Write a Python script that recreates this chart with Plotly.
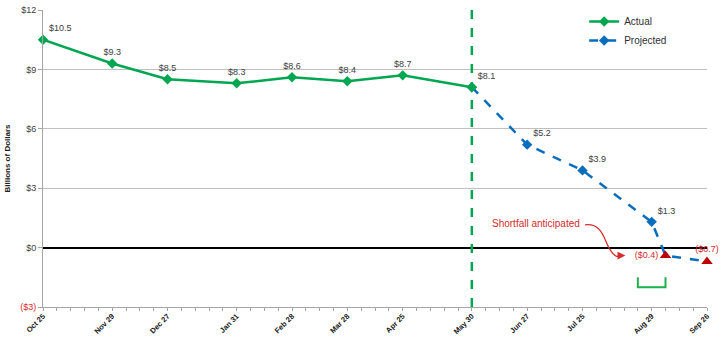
import plotly.graph_objects as go

# ---- data ----
actual_dates = ["2013-10-25", "2013-11-29", "2013-12-27", "2014-01-31", "2014-02-28",
                "2014-03-28", "2014-04-25", "2014-05-30"]
actual_vals = [10.5, 9.3, 8.5, 8.3, 8.6, 8.4, 8.7, 8.1]
actual_labels = ["$10.5", "$9.3", "$8.5", "$8.3", "$8.6", "$8.4", "$8.7", "$8.1"]

proj_dates = ["2014-05-30", "2014-06-27", "2014-07-25", "2014-08-29", "2014-09-05", "2014-09-26"]
proj_vals = [8.1, 5.2, 3.9, 1.3, -0.4, -0.7]
proj_labels = ["", "$5.2", "$3.9", "$1.3", "", ""]

short_dates = ["2014-09-05", "2014-09-26"]
short_vals = [-0.4, -0.7]
short_labels = ["($0.4)", "($0.7)"]

tick_dates = ["2013-10-25", "2013-11-29", "2013-12-27", "2014-01-31", "2014-02-28",
              "2014-03-28", "2014-04-25", "2014-05-30", "2014-06-27", "2014-07-25",
              "2014-08-29", "2014-09-26"]
tick_text = ["Oct 25", "Nov 29", "Dec 27", "Jan 31", "Feb 28", "Mar 28", "Apr 25",
             "May 30", "Jun 27", "Jul 25", "Aug 29", "Sep 26"]

y_ticks = [-3, 0, 3, 6, 9, 12]
y_text = ["<span style='color:#D42A2A'>($3)</span>", "$0", "$3", "$6", "$9", "$12"]

divider_date = "2014-05-30"
bracket_start, bracket_end = "2014-08-22", "2014-09-05"
bracket_top, bracket_bottom = -1.5, -2.0

GREEN = "#00A650"
BLUE = "#0A6EBD"
DRED = "#C00000"
RED = "#D42A2A"
FONT = "Liberation Sans"

fig = go.Figure()

fig.add_trace(go.Scatter(
    x=proj_dates, y=proj_vals, name="Projected", mode="lines+markers+text",
    line=dict(color=BLUE, width=2.5, dash="dash"),
    marker=dict(symbol="diamond", size=8,
                color=[BLUE, BLUE, BLUE, BLUE, "rgba(0,0,0,0)", "rgba(0,0,0,0)"]),
    text=proj_labels, textposition="top right",
    textfont=dict(size=9, color="#404040", family=FONT),
    cliponaxis=False, hoverinfo="skip",
))

fig.add_trace(go.Scatter(
    x=actual_dates, y=actual_vals, name="Actual", mode="lines+markers+text",
    line=dict(color=GREEN, width=2.5),
    marker=dict(symbol="diamond", size=8, color=GREEN),
    text=actual_labels,
    textposition=["top right"] + ["top center"] * 6 + ["top right"],
    textfont=dict(size=9, color="#404040", family=FONT),
    cliponaxis=False, hoverinfo="skip",
))

fig.add_trace(go.Scatter(
    x=short_dates, y=short_vals, mode="markers+text", showlegend=False,
    marker=dict(symbol="triangle-up", size=10, color=DRED),
    text=short_labels, textposition=["middle left", "top center"],
    textfont=dict(size=9, color=RED, family=FONT),
    cliponaxis=False, hoverinfo="skip",
))

fig.add_trace(go.Scatter(
    x=[bracket_start, bracket_start, bracket_end, bracket_end],
    y=[bracket_top, bracket_bottom, bracket_bottom, bracket_top],
    mode="lines", showlegend=False, line=dict(color="#1DB04B", width=2),
    hoverinfo="skip",
))

# vertical divider
fig.add_shape(type="line", xref="x", yref="y", x0=divider_date, x1=divider_date,
              y0=-3, y1=12, line=dict(color=GREEN, width=2.5, dash="dash"), layer="above")

# curved arrow
fig.add_shape(type="path", xref="paper", yref="paper",
              path="M 0.8163,0.2767 C 0.8434,0.2833 0.8449,0.2233 0.8539,0.1933 S 0.866,0.17 0.872,0.1733",
              line=dict(color=RED, width=1.3))
fig.add_annotation(xref="paper", yref="paper", x=0.877, y=0.1733, ax=-7, ay=0,
                   showarrow=True, arrowhead=2, arrowsize=1.2, arrowwidth=1.3,
                   arrowcolor=RED, text="")
fig.add_annotation(xref="paper", yref="paper", x=0.812, y=0.28, xanchor="right",
                   yanchor="middle", showarrow=False, text="Shortfall anticipated",
                   font=dict(size=10, color=RED, family=FONT))

fig.update_layout(
    width=725, height=337,
    margin=dict(l=43, r=18, t=7, b=30),
    plot_bgcolor="white", paper_bgcolor="white",
    font=dict(family=FONT, size=9, color="#404040"),
    showlegend=True,
    legend=dict(x=0.815, y=1.01, xanchor="left", yanchor="top",
                font=dict(size=10, color="#303030", family=FONT),
                bgcolor="rgba(0,0,0,0)", tracegroupgap=2, traceorder="reversed"),
    xaxis=dict(
        type="date", range=[tick_dates[0], tick_dates[-1]], automargin=False,
        tickmode="array", tickvals=tick_dates, ticktext=tick_text,
        tickangle=-45, tickfont=dict(size=7.5, color="#202020", family=FONT, weight="bold"),
        showgrid=False, showline=True, linecolor="#A6A6A6", linewidth=1,
        ticks="outside", ticklen=3, tickcolor="#A6A6A6", ticklabelstandoff=-2,
        minor=dict(dtick=7 * 24 * 3600 * 1000, tick0="2013-10-25", ticks="outside",
                   ticklen=3, tickcolor="#A6A6A6", showgrid=False),
        zeroline=False,
    ),
    yaxis=dict(
        range=[-3, 12], tickmode="array", tickvals=y_ticks, ticktext=y_text,
        tickfont=dict(size=9, color="#404040", family=FONT), automargin=False,
        showgrid=True, gridcolor="#BFBFBF", gridwidth=1,
        showline=True, linecolor="#A6A6A6", linewidth=1,
        ticks="outside", ticklen=4, tickcolor="#A6A6A6",
        zeroline=True, zerolinecolor="black", zerolinewidth=2,
        title=dict(text="<b>Billions of Dollars</b>", font=dict(size=8, color="#202020", family=FONT),
                   standoff=8),
    ),
)

fig.write_html("out.html")
